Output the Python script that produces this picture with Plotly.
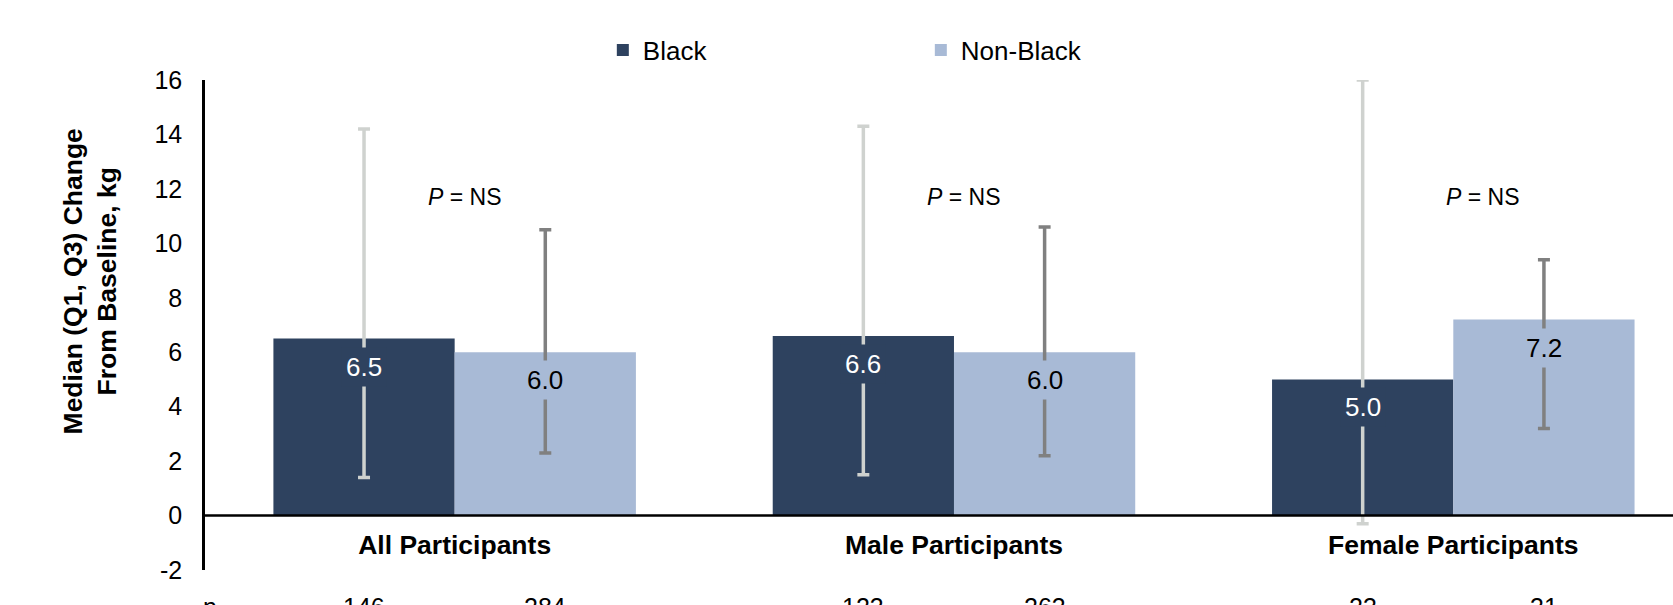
import plotly.graph_objects as go

# Groups and series
categories = ["All Participants", "Male Participants", "Female Participants"]
series_names = ["Black", "Non-Black"]

# Median weight change from baseline (kg) with Q1 / Q3
black_median = [6.5, 6.6, 5.0]
black_q1 = [1.4, 1.5, -0.3]
black_q3 = [14.2, 14.3, 16.0]

nonblack_median = [6.0, 6.0, 7.2]
nonblack_q1 = [2.3, 2.2, 3.2]
nonblack_q3 = [10.5, 10.6, 9.4]

# Participants per group
black_n = [146, 123, 23]
nonblack_n = [284, 263, 31]

p_labels = ["NS", "NS", "NS"]

y_tickvals = [-2, 0, 2, 4, 6, 8, 10, 12, 14, 16]
y_ticktext = ["-2", "0", "2", "4", "6", "8", "10", "12", "14", "16"]

FONT = "Liberation Sans, Arial, sans-serif"
FS = 25
DARK = "#2e425f"
LIGHT = "#a8bad6"
BARGAP = 0.274
HALF = (1 - BARGAP) / 4  # offset of each bar centre from its group centre

L_MARGIN = 205
PLOT_W = 1673 - L_MARGIN

x = list(range(len(categories)))

fig = go.Figure()
fig.add_trace(go.Bar(
    name=series_names[0], x=x, y=black_median,
    marker=dict(color=DARK, line=dict(width=0)),
    error_y=dict(type="data", symmetric=False,
                 array=[q3 - m for q3, m in zip(black_q3, black_median)],
                 arrayminus=[m - q1 for q1, m in zip(black_q1, black_median)],
                 color="#cfd2cf", thickness=3.5, width=6),
))
fig.add_trace(go.Bar(
    name=series_names[1], x=x, y=nonblack_median,
    marker=dict(color=LIGHT, line=dict(width=0)),
    error_y=dict(type="data", symmetric=False,
                 array=[q3 - m for q3, m in zip(nonblack_q3, nonblack_median)],
                 arrayminus=[m - q1 for q1, m in zip(nonblack_q1, nonblack_median)],
                 color="#808080", thickness=3.5, width=6),
))

annotations = []
# value labels just inside the top of each bar, boxed in the bar colour
for i in x:
    for v, off, bg, fc in ((black_median[i], -HALF, DARK, "white"),
                           (nonblack_median[i], HALF, LIGHT, "black")):
        annotations.append(dict(
            x=i + off, y=v, xref="x", yref="y", text=f"{v:.1f}",
            showarrow=False, yanchor="top", yshift=-8,
            bgcolor=bg, borderpad=4,
            font=dict(family=FONT, size=26, color=fc)))

# P-value labels
p_offsets = [0.02, 1.02, 2.06]
for px, lab in zip(p_offsets, p_labels):
    annotations.append(dict(
        x=px, y=11.7, xref="x", yref="y", text=f"<i>P</i> = {lab}",
        showarrow=False, font=dict(family=FONT, size=23, color="black")))

# n row beneath the plot
annotations.append(dict(
    x=0, y=0, xref="paper", yref="paper", text="n", showarrow=False,
    xanchor="left", yanchor="top", yshift=-21, xshift=-4,
    font=dict(family=FONT, size=FS, color="black")))
for i in x:
    for n, off in ((black_n[i], -HALF), (nonblack_n[i], HALF)):
        annotations.append(dict(
            x=i + off, y=0, xref="x", yref="paper", text=str(n),
            showarrow=False, yanchor="top", yshift=-21,
            font=dict(family=FONT, size=FS, color="black")))

# y-axis title
annotations.append(dict(
    x=(90 - L_MARGIN) / PLOT_W, y=8.6, xref="paper", yref="y",
    xanchor="center", yanchor="middle", showarrow=False,
    text="Median (Q1, Q3) Change<br>From Baseline, kg", textangle=-90,
    font=dict(family=FONT, size=26.5, color="black", weight="bold")))

fig.update_layout(
    width=1673, height=605,
    margin=dict(l=L_MARGIN, r=0, t=80, b=35),
    paper_bgcolor="white", plot_bgcolor="white",
    barmode="group", bargap=BARGAP, bargroupgap=0,
    font=dict(family=FONT, size=FS, color="black"),
    showlegend=True,
    legend=dict(orientation="h", x=0.271, y=1.061, xanchor="left", yanchor="middle",
                entrywidth=273, entrywidthmode="pixels",
                font=dict(family=FONT, size=26, color="black"),
                bgcolor="rgba(0,0,0,0)"),
    xaxis=dict(range=[-0.5, 2.44], tickvals=x, ticktext=categories,
               anchor="free", position=0.088,
               showgrid=False, zeroline=False, showline=False, ticks="",
               tickfont=dict(family=FONT, size=26.5, color="black", weight="bold")),
    yaxis=dict(range=[-2, 16], tickvals=y_tickvals, ticktext=y_ticktext,
               showgrid=False, zeroline=False, showline=True,
               linecolor="black", linewidth=2.5, ticks="",
               ticklabelstandoff=15,
               tickfont=dict(family=FONT, size=FS, color="black")),
    annotations=annotations,
    shapes=[dict(type="line", xref="paper", yref="y", x0=0, x1=1, y0=0, y1=0,
                 line=dict(color="black", width=2.5), layer="above")],
)

fig.write_html("out.html")
